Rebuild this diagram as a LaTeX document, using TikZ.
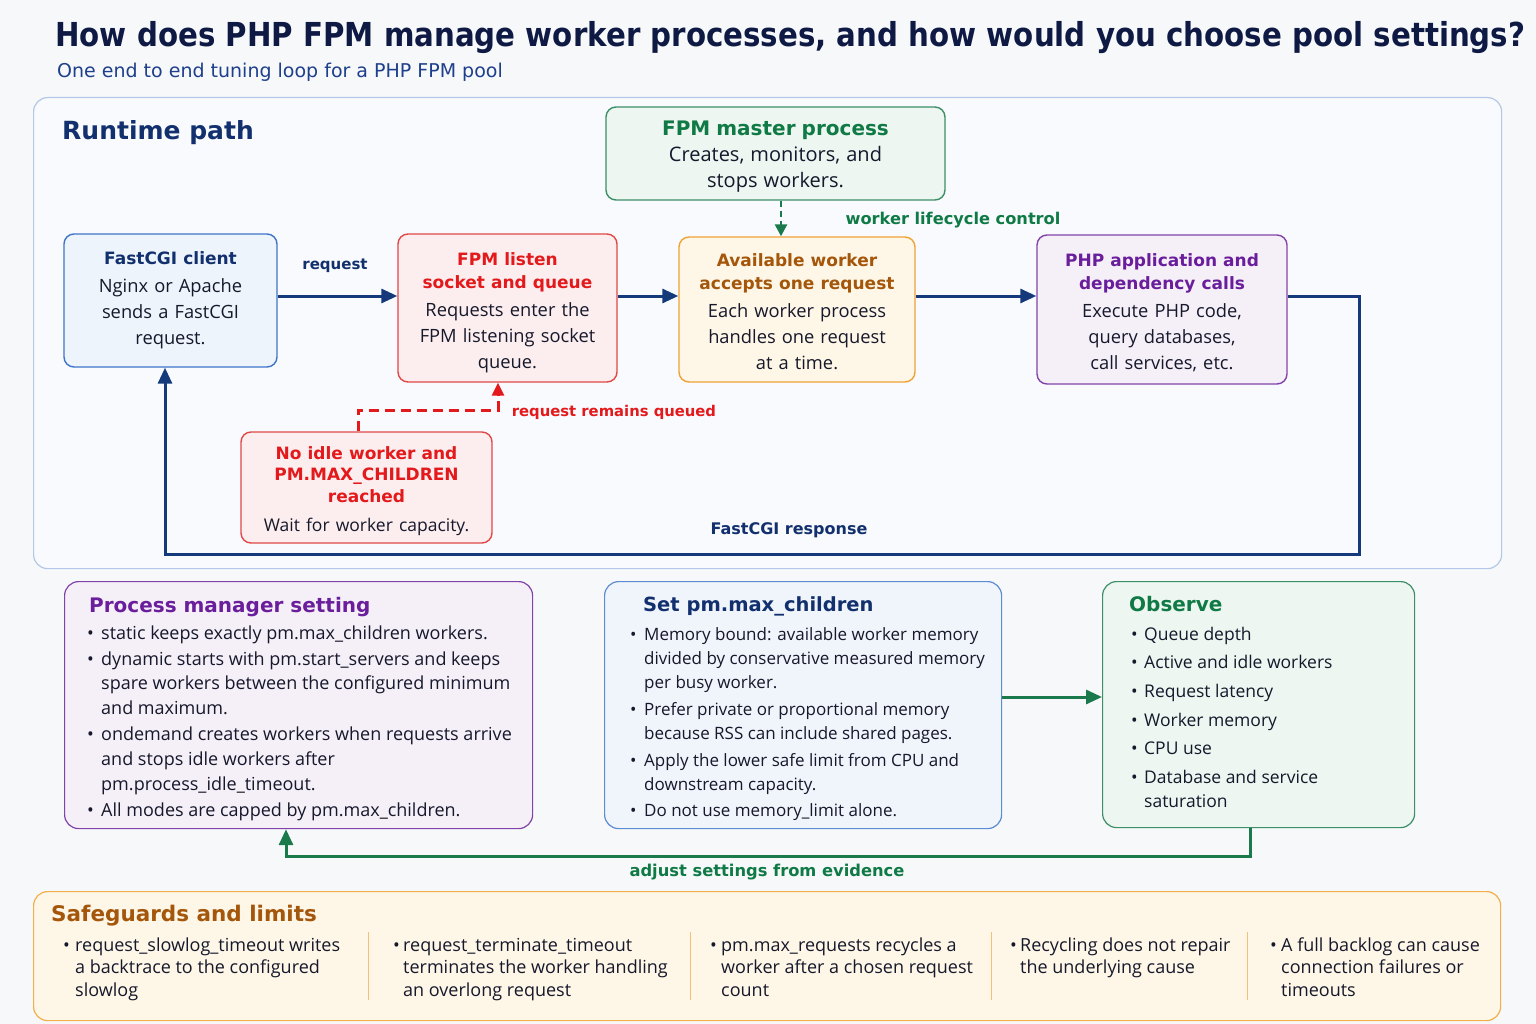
\documentclass[tikz,border=0pt]{standalone}
\usepackage{fontspec}
\usepackage{graphicx}
\setmainfont{Open Sans}
\newfontfamily\hfont{DejaVu Sans}
\usetikzlibrary{arrows.meta,calc}

\definecolor{bg}{HTML}{F7F8FA}
\definecolor{ink}{HTML}{16182B}
\definecolor{navy}{HTML}{12306E}
\definecolor{navyc}{HTML}{143A7C}
\definecolor{titlecol}{HTML}{0E1A44}
\definecolor{subcol}{HTML}{1E3F8C}
\definecolor{rpborder}{HTML}{B3C8E6}
\definecolor{rpfill}{HTML}{F8FAFD}
\definecolor{greent}{HTML}{0F7A45}
\definecolor{gborder}{HTML}{3D8F68}
\definecolor{gfill}{HTML}{EDF6F0}
\definecolor{garrow}{HTML}{1B7A4C}
\definecolor{redt}{HTML}{E3191C}
\definecolor{rborder}{HTML}{E04848}
\definecolor{rfill}{HTML}{FCEEEE}
\definecolor{oranget}{HTML}{A4560A}
\definecolor{oborder}{HTML}{F0A236}
\definecolor{ofill}{HTML}{FEF6E6}
\definecolor{purplet}{HTML}{6A1E9C}
\definecolor{pborder}{HTML}{8243A9}
\definecolor{pfill}{HTML}{F5EFF8}
\definecolor{bborder}{HTML}{3F74C8}
\definecolor{bfill}{HTML}{EEF4FC}
\definecolor{sborder}{HTML}{5C8CD2}
\definecolor{sfill}{HTML}{F0F4FB}
\definecolor{sgborder}{HTML}{F2B04A}
\definecolor{sgfill}{HTML}{FEF7E8}
\definecolor{sgsep}{HTML}{F2C07A}

\newcommand\bodyf{\fontsize{18.3}{26}\selectfont}
\newcommand\ftitle[2]{{\color{#1}\hfont\bfseries\fontsize{17}{23}\selectfont #2\par}\vspace{2pt}}
\newcommand\bind{14pt}
\newcommand\nl{\hfil\break}
\newcommand\listbox[4]{\vtop{\hsize=#1\relax\parskip=#2\relax\parindent=0pt\raggedright\renewcommand\bind{#3}#4}}
\newcommand\bitem[1]{\par\hangindent=\bind\hangafter=1\noindent\makebox[\bind][l]{•}#1}

\begin{document}
\begin{tikzpicture}[x=1pt,y=-1pt,
  flowbox/.style={draw, rounded corners=10pt, line width=1.4pt, inner sep=0pt},
  flowtext/.style={align=center, inner sep=0pt, font=\bodyf, text=ink},
  panel/.style={draw, rounded corners=14pt, line width=1.2pt, anchor=north west, inner sep=0pt},
  arr/.style={line width=3pt, -{Triangle[length=16pt,width=14pt]}},
  lab/.style={font=\hfont\bfseries\fontsize{15.5}{18}\selectfont, inner sep=0pt},
  htitle/.style={anchor=base west, inner sep=0pt, font=\hfont\bfseries\fontsize{20}{24}\selectfont},
  plist/.style={anchor=base west, inner sep=0pt, text=ink},
]
\useasboundingbox (0,0) rectangle (1536,1024);
\fill[bg] (0,0) rectangle (1536,1024);

% title
\node[anchor=base west, inner sep=0pt, text=titlecol] (title) at (55,47)
  {\resizebox{1470pt}{\height}{\hfont\bfseries\fontsize{33}{38}\selectfont How does PHP FPM manage worker processes, and how would you choose pool settings?}};
\node[anchor=base west, inner sep=0pt, text=subcol, font=\hfont\fontsize{19}{22}\selectfont] (subtitle) at (57,78)
  {One end to end tuning loop for a PHP FPM pool};

% runtime panel
\node[panel, draw=rpborder, fill=rpfill, minimum width=1468pt, minimum height=471pt] (runtime) at (33,97) {};
\node[htitle, text=navy, font=\hfont\bfseries\fontsize{25}{30}\selectfont] (rptitle) at (62,140) {Runtime path};

% flow boxes
\node[flowbox, draw=gborder, fill=gfill, minimum width=339pt, minimum height=93pt] (master) at (775.5,153.5) {};
\node[flowtext, text width=330pt] (mastertext) at ($(master)+(0,3.5)$)
  {{\color{greent}\hfont\bfseries\fontsize{20}{24}\selectfont FPM master process\par}\fontsize{20}{26}\selectfont Creates, monitors, and\\stops workers.};
\node[flowbox, draw=bborder, fill=bfill, minimum width=213pt, minimum height=133pt] (client) at (170.5,300.5) {};
\node[flowtext, text width=205pt] (clienttext) at (client)
  {\ftitle{navy}{FastCGI client}Nginx or Apache\\sends a FastCGI\\request.};
\node[flowbox, draw=rborder, fill=rfill, minimum width=219pt, minimum height=148pt] (listen) at (507.5,308) {};
\node[flowtext, text width=211pt] (listentext) at ($(listen)+(0,4.5)$)
  {\ftitle{redt}{FPM listen\\socket and queue}Requests enter the\\FPM listening socket\\queue.};
\node[flowbox, draw=oborder, fill=ofill, minimum width=236pt, minimum height=145pt] (avail) at (797,309.5) {};
\node[flowtext, text width=228pt] (availtext) at ($(avail)+(0,2)$)
  {\ftitle{oranget}{Available worker\\accepts one request}Each worker process\\handles one request\\at a time.};
\node[flowbox, draw=pborder, fill=pfill, minimum width=250pt, minimum height=149pt] (php) at (1162,309.5) {};
\node[flowtext, text width=242pt] (phptext) at ($(php)+(0,3)$)
  {\ftitle{purplet}{PHP application and\\dependency calls}Execute PHP code,\\query databases,\\call services, etc.};
\node[flowbox, draw=rborder, fill=rfill, minimum width=251pt, minimum height=111pt] (noidle) at (366.5,487.5) {};
\node[flowtext, text width=243pt] (noidletext) at ($(noidle)+(0,3.5)$)
  {{\color{redt}\hfont\bfseries\fontsize{17}{21.5}\selectfont No idle worker and\\PM.MAX\_CHILDREN\\reached\par}\vspace{3pt}\fontsize{17.5}{20}\selectfont Wait for worker capacity.};

% connectors in runtime path
\coordinate (rowy) at (0,296);
\draw[arr, navyc] (client.east |- rowy) -- (listen.west |- rowy);
\draw[arr, navyc] (listen.east |- rowy) -- (avail.west |- rowy);
\draw[arr, navyc] (avail.east |- rowy) -- (php.west |- rowy);
\coordinate (rcorner) at (1359,554);
\coordinate (lcorner) at (165,554);
\draw[arr, navyc] (php.east |- rowy) -| (rcorner) -- (lcorner) -- (lcorner |- client.south);
\coordinate (mx) at (781,0);
\draw[line width=2.6pt, garrow, dash pattern=on 6pt off 4pt, -{Triangle[length=12pt,width=12pt]}] (master.south -| mx) -- (avail.north -| mx);
\coordinate (qc) at (498,410);
\draw[line width=3pt, redt, dash pattern=on 10pt off 6pt, -{Triangle[length=13pt,width=12pt]}] ([xshift=-8.5pt]noidle.north) |- (qc) -- (qc |- listen.south);

\node[lab, text=navy, font=\hfont\bfseries\fontsize{15}{18}\selectfont] (lreq) at (335,266) {request};
\node[lab, text=greent, font=\hfont\bfseries\fontsize{16.2}{18}\selectfont] (llife) at (953,220) {worker lifecycle control};
\node[lab, text=redt, font=\hfont\bfseries\fontsize{14.8}{18}\selectfont] (lq) at (614,412) {request remains queued};
\node[lab, text=navy, font=\hfont\bfseries\fontsize{16}{18}\selectfont] (lresp) at (789,530) {FastCGI response};

% bottom panels
\node[panel, draw=pborder, fill=pfill, minimum width=468pt, minimum height=247pt] (pm) at (64,581) {};
\node[htitle, text=purplet] (pmtitle) at (89,612) {Process manager setting};
\node[plist] (pmlist) at (87,639) {\fontsize{18}{24.7}\selectfont\listbox{440pt}{1.5pt}{14pt}{%
\bitem{static keeps exactly pm.max\_children workers.}
\bitem{dynamic starts with pm.start\_servers and keeps\nl spare workers between the configured minimum\nl and maximum.}
\bitem{ondemand creates workers when requests arrive\nl and stops idle workers after\nl pm.process\_idle\_timeout.}
\bitem{All modes are capped by pm.max\_children.}}};

\node[panel, draw=sborder, fill=sfill, minimum width=397pt, minimum height=247pt] (set) at (604,581) {};
\node[htitle, text=navy, font=\hfont\bfseries\fontsize{19.5}{24}\selectfont] (settitle) at (643,611) {Set pm.max\_children};
\node[plist] (setlist) at (630,640) {\fontsize{17}{24.2}\selectfont\listbox{365pt}{2.5pt}{14pt}{%
\bitem{Memory bound: available worker memory\nl divided by conservative measured memory\nl per busy worker.}
\bitem{Prefer private or proportional memory\nl because RSS can include shared pages.}
\bitem{Apply the lower safe limit from CPU and\nl downstream capacity.}
\bitem{Do not use memory\_limit alone.}}};

\node[panel, draw=gborder, fill=gfill, minimum width=312pt, minimum height=246pt] (obs) at (1102,581) {};
\node[htitle, text=greent] (obstitle) at (1129,611) {Observe};
\node[plist] (obslist) at (1131,640) {\fontsize{17.5}{24}\selectfont\listbox{270pt}{4.7pt}{13pt}{%
\bitem{Queue depth}
\bitem{Active and idle workers}
\bitem{Request latency}
\bitem{Worker memory}
\bitem{CPU use}
\bitem{Database and service\nl saturation}}};

\coordinate (oy) at (0,697);
\draw[arr, garrow] (set.east |- oy) -- (obs.west |- oy);
\coordinate (ox) at (1250,0);
\coordinate (gy) at (0,856);
\coordinate (px) at (286,0);
\draw[arr, garrow] (obs.south -| ox) -- (ox |- gy) -- (px |- gy) -- (pm.south -| px);
\node[lab, text=greent, font=\hfont\bfseries\fontsize{16.3}{18}\selectfont] (ladj) at (767,872) {adjust settings from evidence};

% safeguards
\node[panel, draw=sgborder, fill=sgfill, minimum width=1467pt, minimum height=129pt] (sg) at (33,891) {};
\node[htitle, text=oranget, font=\hfont\bfseries\fontsize{21.5}{24}\selectfont] (sgtitle) at (51,921) {Safeguards and limits};
\foreach \sx in {368,690,991,1247} \draw[sgsep, line width=1pt] (\sx,932) -- (\sx,1000);
\node[plist] (sg1) at (63,951) {\fontsize{18}{22.5}\selectfont\listbox{300pt}{0pt}{12pt}{\bitem{request\_slowlog\_timeout writes\nl a backtrace to the configured\nl slowlog}}};
\node[plist] (sg2) at (393,951) {\fontsize{18}{22.5}\selectfont\listbox{290pt}{0pt}{10pt}{\bitem{request\_terminate\_timeout\nl terminates the worker handling\nl an overlong request}}};
\node[plist] (sg3) at (710,951) {\fontsize{18}{22.5}\selectfont\listbox{275pt}{0pt}{11pt}{\bitem{pm.max\_requests recycles a\nl worker after a chosen request\nl count}}};
\node[plist] (sg4) at (1010,951) {\fontsize{18}{22.5}\selectfont\listbox{235pt}{0pt}{10pt}{\bitem{Recycling does not repair\nl the underlying cause}}};
\node[plist] (sg5) at (1270,951) {\fontsize{18}{22.5}\selectfont\listbox{225pt}{0pt}{11pt}{\bitem{A full backlog can cause\nl connection failures or\nl timeouts}}};
\end{tikzpicture}
\end{document}
